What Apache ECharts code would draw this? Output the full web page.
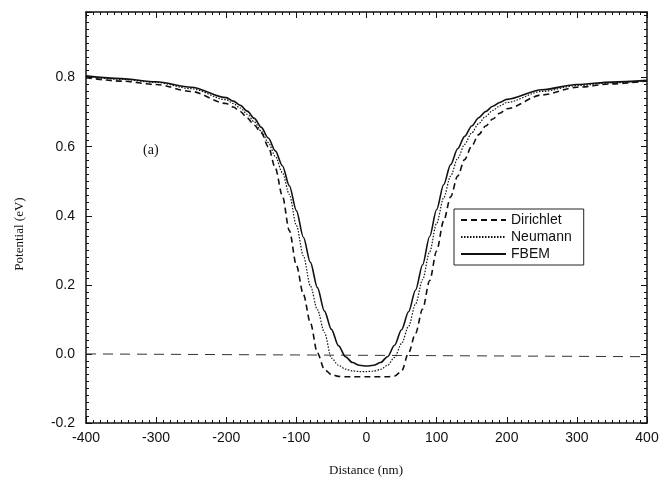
<!DOCTYPE html>
<html>
<head>
<meta charset="utf-8">
<script src="https://cdn.jsdelivr.net/npm/echarts@6/dist/echarts.min.js"></script>
<style>
  html, body { margin: 0; padding: 0; background: #fff; }
  #chart { width: 670px; height: 485px; }
</style>
</head>
<body>
<div id="chart"></div>
<script>
// distance (nm) shared by all three curves
const distance = [-400,-350,-300,-250,
  -200,-190,-180,-170,-160,-150,-140,-130,-120,-110,-100,-90,-80,-70,-60,-50,-40,-30,-20,-10,0,
  10,20,30,40,50,60,70,80,90,100,110,120,130,140,150,160,170,180,190,200,
  250,300,350,400]

const dirichlet = [0.800,0.790,0.780,0.760,
  0.725,0.715,0.702,0.683,0.662,0.640,0.600,0.538,0.458,0.357,0.257,0.172,0.090,0.003,-0.045,-0.060,-0.065,-0.066,-0.066,-0.066,-0.066,
  -0.066,-0.066,-0.066,-0.064,-0.050,0.003,0.060,0.130,0.212,0.298,0.385,0.455,0.515,0.563,0.602,0.635,0.660,0.680,0.697,0.710,
  0.750,0.772,0.782,0.790]

const neumann = [0.803,0.795,0.786,0.768,
  0.736,0.725,0.712,0.694,0.672,0.645,0.612,0.572,0.525,0.462,0.372,0.284,0.197,0.128,0.062,-0.012,-0.033,-0.044,-0.049,-0.051,-0.051,
  -0.050,-0.045,-0.033,-0.010,0.030,0.080,0.145,0.215,0.295,0.378,0.452,0.515,0.566,0.607,0.640,0.667,0.688,0.705,0.718,0.728,
  0.760,0.777,0.785,0.790]

const fbem = [0.805,0.797,0.788,0.772,
  0.742,0.732,0.720,0.703,0.682,0.656,0.625,0.588,0.545,0.487,0.415,0.338,0.265,0.192,0.124,0.071,0.024,-0.008,-0.025,-0.033,-0.035,
  -0.033,-0.025,-0.008,0.025,0.070,0.122,0.185,0.258,0.340,0.418,0.490,0.548,0.594,0.630,0.660,0.684,0.702,0.717,0.728,0.737,
  0.765,0.780,0.787,0.792]

// reference line near zero potential
const zeroLineX = [-400, 400]
const zeroLineY = [0.0, -0.008]

const xTicks = [-400, 400, 100]
const yTicks = [-0.2, 0.99, 0.2]

const pair = (xs, ys) => xs.map((x, i) => [x, ys[i]])

const sans = 'Liberation Sans, Arial, sans-serif'
const serif = 'Liberation Serif, Times New Roman, serif'

function frameAxis(extra) {
  return Object.assign({
    type: 'value',
    axisLine: { show: true, onZero: false, lineStyle: { color: '#111', width: 1.5 } },
    axisTick: { show: true, inside: true, length: 6, lineStyle: { color: '#111' } },
    minorTick: { show: true, splitNumber: 10, length: 3, lineStyle: { color: '#111' } },
    splitLine: { show: false },
    minorSplitLine: { show: false }
  }, extra)
}

const chart = echarts.init(document.getElementById('chart'))
const option = {
  animation: false,
  backgroundColor: '#fff',
  grid: { left: 86, right: 23, top: 12, bottom: 62 },
  xAxis: [
    frameAxis({
      min: xTicks[0], max: xTicks[1], interval: xTicks[2], position: 'bottom',
      axisLabel: { color: '#111', fontFamily: sans, fontSize: 14, margin: 8 }
    }),
    frameAxis({
      min: xTicks[0], max: xTicks[1], interval: xTicks[2], position: 'top',
      axisLabel: { show: false }
    })
  ],
  yAxis: [
    frameAxis({
      min: yTicks[0], max: yTicks[1], interval: yTicks[2], position: 'left',
      axisLabel: {
        color: '#111', fontFamily: sans, fontSize: 14, margin: 11,
        showMaxLabel: false,
        formatter: v => (v > 0.9 ? '' : v.toFixed(1))
      }
    }),
    frameAxis({
      min: yTicks[0], max: yTicks[1], interval: yTicks[2], position: 'right',
      axisLabel: { show: false }
    })
  ],
  legend: {
    orient: 'vertical',
    left: 454,
    top: 209,
    data: ['Dirichlet', 'Neumann', 'FBEM'],
    itemWidth: 45,
    itemHeight: 14,
    itemGap: 3,
    padding: [4, 12, 4, 6],
    borderColor: '#222',
    borderWidth: 1,
    backgroundColor: '#fff',
    itemStyle: { opacity: 0 },
    textStyle: { color: '#111', fontFamily: sans, fontSize: 14 }
  },
  graphic: [
    {
      type: 'text', left: 143, top: 143,
      style: { text: '(a)', font: '14px ' + serif, fill: '#111' }
    },
    {
      type: 'text', x: 20, y: 234, rotation: Math.PI / 2,
      style: { text: 'Potential (eV)', font: '13px ' + serif, fill: '#111', align: 'center', verticalAlign: 'middle' }
    },
    {
      type: 'text', x: 366, y: 471,
      style: { text: 'Distance (nm)', font: '13px ' + serif, fill: '#111', align: 'center', verticalAlign: 'middle' }
    }
  ],
  series: [
    {
      name: 'zero',
      type: 'line',
      symbol: 'none',
      data: pair(zeroLineX, zeroLineY),
      lineStyle: { color: '#333', width: 1, type: [10, 7] },
      silent: true
    },
    {
      name: 'Dirichlet',
      type: 'line',
      symbol: 'none',
      smooth: 0.3,
      smoothMonotone: 'x',
      data: pair(distance, dirichlet),
      lineStyle: { color: '#111', width: 1.6, type: [6, 4] }
    },
    {
      name: 'Neumann',
      type: 'line',
      symbol: 'none',
      smooth: 0.3,
      smoothMonotone: 'x',
      data: pair(distance, neumann),
      lineStyle: { color: '#111', width: 1.2, type: [1.5, 1.5] }
    },
    {
      name: 'FBEM',
      type: 'line',
      symbol: 'none',
      smooth: 0.3,
      smoothMonotone: 'x',
      data: pair(distance, fbem),
      lineStyle: { color: '#111', width: 1.6 }
    }
  ]
}
chart.setOption(option)
</script>
</body>
</html>
